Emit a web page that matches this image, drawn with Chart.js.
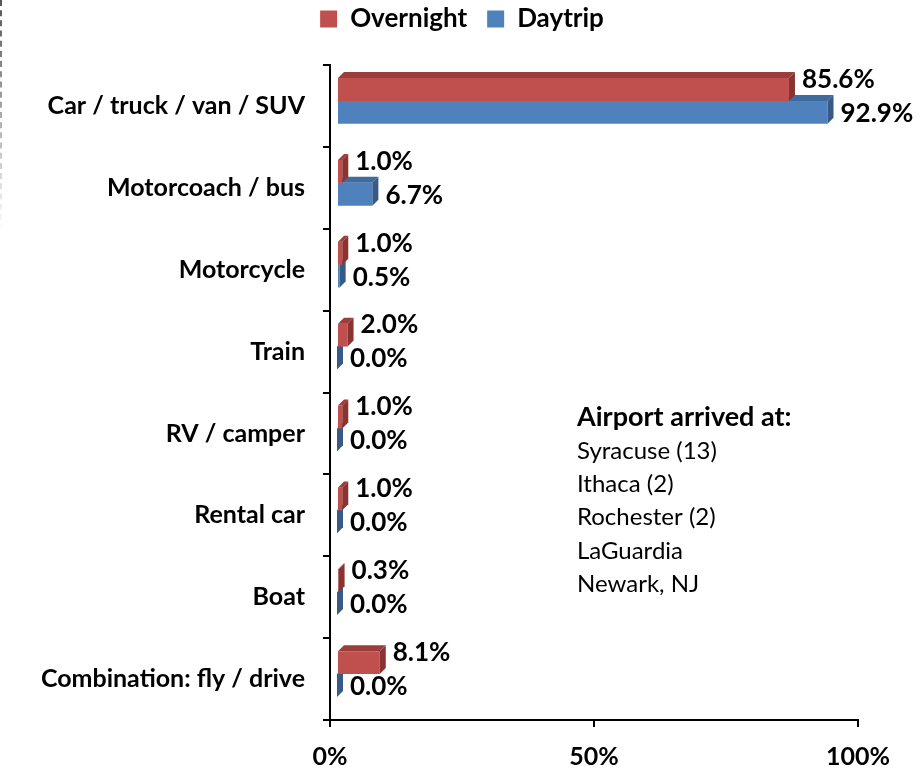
<!DOCTYPE html>
<html>
<head>
<meta charset="utf-8">
<script src="https://cdn.jsdelivr.net/npm/chart.js@4.4.0/dist/chart.umd.min.js"></script>
<style>
html, body { margin: 0; padding: 0; background: #fff; }
#wrap { position: relative; width: 923px; height: 772px; }
#dash {
    position: absolute; left: 0; top: 0; height: 230px;
    border-left: 2px dashed #555;
    -webkit-mask-image: linear-gradient(to bottom, #000, rgba(0,0,0,0));
    mask-image: linear-gradient(to bottom, #000, rgba(0,0,0,0));
}
</style>
</head>
<body>
<div id="wrap"><div id="dash"></div><canvas id="myBarChart"></canvas></div>
<script>
var categories = ["Car / truck / van / SUV", "Motorcoach / bus", "Motorcycle", "Train",
    "RV / camper", "Rental car", "Boat", "Combination: fly / drive"];
var overnight = [85.6, 1.0, 1.0, 2.0, 1.0, 1.0, 0.3, 8.1];
var daytrip = [92.9, 6.7, 0.5, 0.0, 0.0, 0.0, 0.0, 0.0];
var xTicks = [0, 50, 100];
var airportTitle = "Airport arrived at:";
var airports = ["Syracuse (13)", "Ithaca (2)", "Rochester (2)", "LaGuardia", "Newark, NJ"];

var fontFamily = "Lato, 'Open Sans', sans-serif";
var depth = 6, shiftX = 7, shiftY = -5;
var faceColors = [
    { top: "#9b3d3b", side: "#8a3330" },
    { top: "#3f6b9f", side: "#375a86" }
];

function poly(ctx, pts) {
    ctx.beginPath();
    ctx.moveTo(pts[0][0], pts[0][1]);
    for (var i = 1; i < pts.length; i++) ctx.lineTo(pts[i][0], pts[i][1]);
    ctx.closePath();
    ctx.fill();
}

// fake 3d bars + value labels + the airport note
var bars3d = {
    id: "bars3d",
    beforeLayout: function (chart) {
        // keep the legend line near the top but leave room above the plot
        var lg = chart.legend;
        if (lg && !lg._tall) {
            var fit = lg.fit;
            lg.fit = function () {
                fit.call(this);
                this.height = 79;
            };
            lg._tall = true;
        }
    },
    afterLayout: function (chart) {
        // legend sits a bit right of centre in the original
        chart.legend.left += 33;
        chart.legend.right += 33;
    },
    beforeDatasetsDraw: function (chart) {
        chart.ctx.save();
        chart.ctx.translate(shiftX, shiftY);
    },
    afterDatasetDraw: function (chart, args) {
        var ctx = chart.ctx, c = faceColors[args.index];
        args.meta.data.forEach(function (bar) {
            var x0 = bar.base, x1 = bar.x;
            var yT = bar.y - bar.height / 2, yB = bar.y + bar.height / 2;
            ctx.fillStyle = c.top;
            poly(ctx, [[x0, yT], [x0 + depth, yT - depth], [x1 + depth, yT - depth], [x1, yT]]);
            ctx.fillStyle = c.side;
            poly(ctx, [[x1, yT], [x1 + depth, yT - depth], [x1 + depth, yB - depth], [x1, yB]]);
        });
    },
    afterDatasetsDraw: function (chart) {
        var ctx = chart.ctx;
        ctx.restore();
        ctx.save();
        ctx.fillStyle = "#000";
        ctx.textAlign = "left";
        ctx.textBaseline = "middle";
        ctx.font = "bold 26px " + fontFamily;
        chart.data.datasets.forEach(function (ds, di) {
            chart.getDatasetMeta(di).data.forEach(function (bar, i) {
                var y = bar.y + shiftY + (di === 0 ? -10 : 1);
                ctx.fillText(ds.data[i].toFixed(1) + "%", bar.x + shiftX + depth + 7, y);
            });
        });
        ctx.font = "bold 27px " + fontFamily;
        ctx.fillText(airportTitle, 577, 417);
        ctx.font = "24px " + fontFamily;
        airports.forEach(function (a, i) {
            ctx.fillText(a, 577, 451 + i * 33.3);
        });
        ctx.restore();
    }
};

var myBarChart = new Chart(document.getElementById("myBarChart"), {
    type: "bar",
    data: {
        labels: categories,
        datasets: [
            { label: "Overnight", data: overnight, backgroundColor: "#c0504d", borderWidth: 0 },
            { label: "Daytrip", data: daytrip, backgroundColor: "#4f81bd", borderWidth: 0 }
        ]
    },
    options: {
        indexAxis: "y",
        responsive: true,
        maintainAspectRatio: false,
        animation: false,
        categoryPercentage: 0.56,
        barPercentage: 1.0,
        layout: { padding: { top: -14, right: 65, left: 0, bottom: 0 } },
        plugins: {
            legend: {
                position: "top",
                labels: {
                    color: "#000",
                    boxWidth: 17,
                    boxHeight: 17,
                    padding: 20,
                    font: { family: fontFamily, size: 26, weight: "bold" }
                }
            },
            tooltip: { enabled: false }
        },
        scales: {
            x: {
                min: 0,
                max: 100,
                afterBuildTicks: function (s) {
                    s.ticks = xTicks.map(function (v) { return { value: v }; });
                },
                afterFit: function (s) { s.height = 52; },
                border: { color: "#000", width: 2 },
                grid: { drawOnChartArea: false, color: "#000", lineWidth: 2, tickLength: 7 },
                ticks: {
                    color: "#000",
                    padding: 15,
                    font: { family: fontFamily, size: 25, weight: "bold" },
                    callback: function (v) { return v + "%"; }
                }
            },
            y: {
                afterFit: function (s) { s.width = 330; },
                border: { color: "#000", width: 2 },
                grid: { drawOnChartArea: false, color: "#000", lineWidth: 2, tickLength: 7, offset: true },
                ticks: {
                    color: "#000",
                    padding: 18,
                    font: { family: fontFamily, size: 25, weight: "bold" }
                }
            }
        }
    },
    plugins: [bars3d]
});
</script>
</body>
</html>
